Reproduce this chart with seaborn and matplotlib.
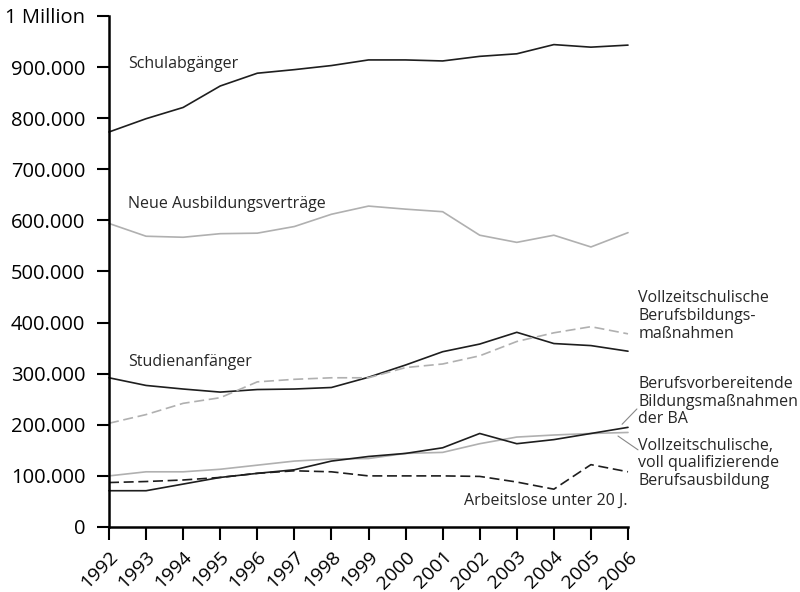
import matplotlib
matplotlib.use("Agg")
import matplotlib.pyplot as plt
import seaborn as sns
import pandas as pd
from matplotlib.ticker import FixedLocator, FixedFormatter

years = list(range(1992, 2007))
schulabgaenger = [773, 799, 821, 863, 888, 895, 903, 914, 914, 912, 921, 926, 944, 939, 943]
neue_vertraege = [594, 569, 567, 574, 575, 588, 612, 628, 622, 617, 571, 557, 571, 548, 576]
studienanfaenger = [292, 277, 270, 264, 269, 270, 273, 293, 317, 343, 358, 381, 359, 355, 344]
vollz_berufsbildung = [203, 220, 242, 253, 284, 289, 292, 292, 312, 319, 335, 363, 380, 392, 378]
berufsvorbereitend = [71, 71, 84, 97, 105, 112, 129, 138, 144, 155, 183, 163, 171, 183, 195]
vollz_qualifizierend = [100, 108, 108, 113, 121, 129, 133, 134, 144, 146, 163, 176, 180, 183, 185]
arbeitslose = [87, 89, 92, 97, 105, 110, 108, 100, 100, 100, 99, 88, 74, 122, 108]

ytick_values = [0, 100000, 200000, 300000, 400000, 500000, 600000, 700000, 800000, 900000, 1000000]
ytick_labels = ["0", "100.000", "200.000", "300.000", "400.000", "500.000",
                "600.000", "700.000", "800.000", "900.000", "1 Million"]

sns.set_style("ticks")
plt.rcParams["font.family"] = ["Open Sans", "DejaVu Sans"]

BLACK = "#1e1e1e"
GRAY = "#b0b0b0"
DASH = (0, (6, 2.8))

series = [
    (schulabgaenger, BLACK, "-"),
    (neue_vertraege, GRAY, "-"),
    (studienanfaenger, BLACK, "-"),
    (vollz_berufsbildung, GRAY, DASH),
    (vollz_qualifizierend, GRAY, "-"),
    (berufsvorbereitend, BLACK, "-"),
    (arbeitslose, BLACK, DASH),
]

fig = plt.figure(figsize=(8, 5.92), dpi=100)
ax = fig.add_axes([0.13625, 0.1098, 0.64875, 0.8632])

for vals, col, ls in series:
    df = pd.DataFrame({"Jahr": years, "Wert": [v * 1000 for v in vals]})
    sns.lineplot(data=df, x="Jahr", y="Wert", ax=ax, color=col, linestyle=ls,
                 linewidth=1.2, clip_on=False)

ax.set_xlim(1992, 2006)
ax.set_ylim(0, 1000000)
ax.set_xlabel("")
ax.set_ylabel("")
ax.set_xticks(years)
ax.set_xticklabels([str(y) for y in years], rotation=45, ha="right",
                   rotation_mode="anchor", fontsize=14)
ax.yaxis.set_major_locator(FixedLocator(ytick_values))
ax.yaxis.set_major_formatter(FixedFormatter(ytick_labels))
for lab in ax.get_yticklabels():
    lab.set_fontsize(14.5)
ax.tick_params(axis="both", direction="out", length=9, width=1.5, color="black",
               labelcolor="black")
ax.tick_params(axis="y", pad=8)
ax.tick_params(axis="x", pad=6)
for side in ["top", "right"]:
    ax.spines[side].set_visible(False)
for side in ["left", "bottom"]:
    ax.spines[side].set_linewidth(1.8)
    ax.spines[side].set_color("black")

fs = 11.5
ax.text(1992.51, 906000, "Schulabgänger", fontsize=fs, va="center", ha="left")
ax.text(1992.51, 632000, "Neue Ausbildungsverträge", fontsize=fs, va="center", ha="left")
ax.text(1992.51, 323000, "Studienanfänger", fontsize=fs, va="center", ha="left")
ax.text(2006, 52000, "Arbeitslose unter 20 J.", fontsize=fs, va="center", ha="right")
ax.text(2006.28, 463000, "Vollzeitschulische\nBerufsbildungs-\nmaßnahmen", fontsize=fs,
        va="top", ha="left", linespacing=1.15, clip_on=False)
ax.text(2006.28, 296000, "Berufsvorbereitende\nBildungsmaßnahmen\nder BA", fontsize=fs,
        va="top", ha="left", linespacing=1.15, clip_on=False)
ax.text(2006.28, 175000, "Vollzeitschulische,\nvoll qualifizierende\nBerufsausbildung", fontsize=fs,
        va="top", ha="left", linespacing=1.15, clip_on=False)

ax.plot([2005.84, 2006.24], [201000, 231000], color="#888888", lw=0.8, clip_on=False)
ax.plot([2005.73, 2006.27], [178000, 151000], color="#888888", lw=0.8, clip_on=False)

fig.savefig("out.png", dpi=100)
